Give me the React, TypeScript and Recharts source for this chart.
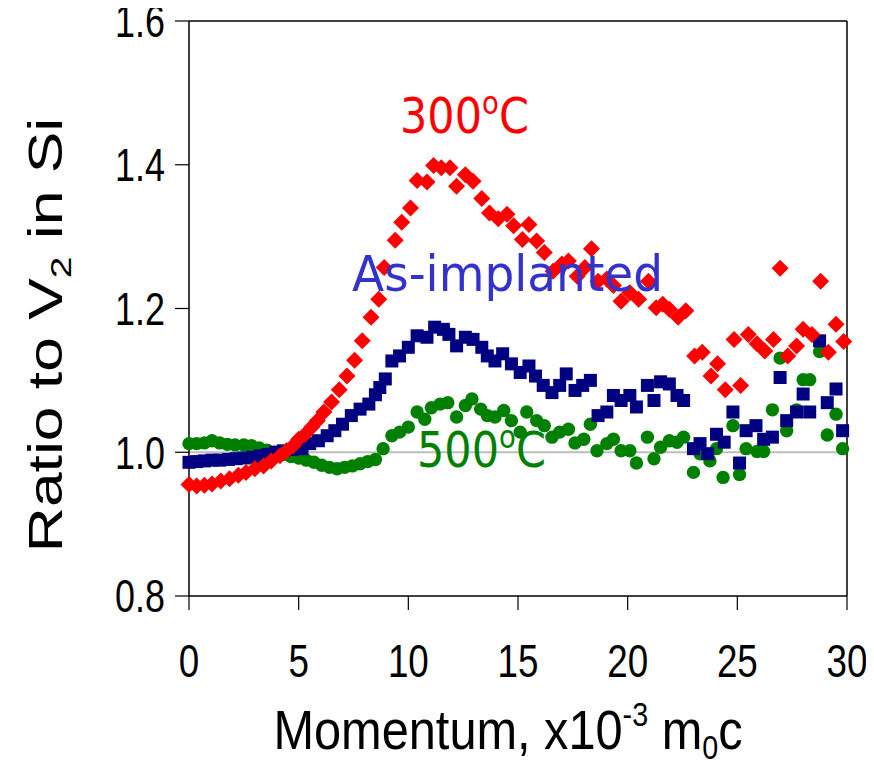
import React from "react";
import {
  ScatterChart,
  Scatter,
  XAxis,
  YAxis,
  ReferenceLine,
  Label,
} from "recharts";

// [momentum (x10^-3 m0c), ratio to V2]
const annealed300: [number, number][] = [
  [0.0, 0.955], [0.35, 0.953], [0.7, 0.954], [1.05, 0.956], [1.45, 0.96], [1.85, 0.963],
  [2.25, 0.968], [2.6, 0.972], [3.0, 0.977], [3.4, 0.981], [3.75, 0.988], [4.15, 0.995],
  [4.45, 1.002], [4.75, 1.009], [5.0, 1.018], [5.3, 1.025], [5.6, 1.035], [5.85, 1.044],
  [6.15, 1.056], [6.5, 1.07], [6.85, 1.087], [7.2, 1.106], [7.55, 1.128], [7.9, 1.155],
  [8.3, 1.188], [8.65, 1.213], [8.9, 1.257], [9.4, 1.295], [9.7, 1.32], [10.1, 1.34],
  [10.4, 1.378], [10.85, 1.376], [11.15, 1.399], [11.5, 1.396], [11.9, 1.396], [12.2, 1.37],
  [12.6, 1.386], [12.95, 1.377], [13.35, 1.353], [13.7, 1.333], [14.1, 1.325], [14.5, 1.331],
  [14.8, 1.315], [15.2, 1.296], [15.5, 1.317], [15.85, 1.294], [16.2, 1.278], [16.6, 1.252],
  [17.0, 1.262], [17.3, 1.266], [17.7, 1.245], [18.05, 1.257], [18.35, 1.283], [18.65, 1.238],
  [19.05, 1.241], [19.35, 1.232], [19.7, 1.21], [20.1, 1.222], [20.5, 1.213], [20.95, 1.238],
  [21.3, 1.201], [21.6, 1.206], [21.9, 1.199], [22.3, 1.188], [22.65, 1.197], [23.05, 1.134],
  [23.4, 1.139], [23.8, 1.106], [24.1, 1.123], [24.45, 1.087], [24.85, 1.157], [25.15, 1.093],
  [25.5, 1.164], [25.9, 1.151], [26.25, 1.141], [26.65, 1.157], [26.95, 1.256], [27.3, 1.134],
  [27.7, 1.148], [28.0, 1.171], [28.4, 1.164], [28.8, 1.238], [29.15, 1.139], [29.5, 1.178],
  [29.85, 1.154],
];

const asImplanted: [number, number][] = [
  [0.0, 0.986], [0.35, 0.987], [0.7, 0.988], [1.05, 0.989], [1.4, 0.989], [1.8, 0.99],
  [2.15, 0.991], [2.5, 0.992], [2.9, 0.993], [3.25, 0.995], [3.6, 0.997], [3.95, 1.0],
  [4.3, 1.002], [4.7, 1.004], [5.15, 1.005], [5.5, 1.012], [5.9, 1.016], [6.3, 1.023],
  [6.65, 1.03], [7.0, 1.039], [7.4, 1.051], [7.8, 1.06], [8.2, 1.067], [8.5, 1.08],
  [8.7, 1.09], [8.95, 1.102], [9.25, 1.127], [9.6, 1.134], [10.0, 1.146], [10.4, 1.162],
  [10.85, 1.16], [11.2, 1.174], [11.6, 1.171], [11.85, 1.164], [12.2, 1.148], [12.6, 1.16],
  [12.95, 1.157], [13.35, 1.146], [13.6, 1.134], [13.95, 1.127], [14.3, 1.137], [14.7, 1.123],
  [15.1, 1.111], [15.5, 1.12], [15.8, 1.106], [16.15, 1.093], [16.55, 1.083], [16.9, 1.093],
  [17.2, 1.109], [17.6, 1.086], [17.95, 1.093], [18.3, 1.1], [18.65, 1.051], [19.05, 1.056],
  [19.35, 1.079], [19.7, 1.072], [20.1, 1.079], [20.4, 1.063], [20.9, 1.093], [21.2, 1.072],
  [21.5, 1.098], [21.9, 1.095], [22.25, 1.079], [22.55, 1.072], [23.0, 1.005], [23.3, 1.012],
  [23.65, 0.998], [24.05, 1.025], [24.4, 1.014], [24.8, 1.056], [25.1, 0.985], [25.4, 1.03],
  [25.85, 1.037], [26.2, 1.018], [26.6, 1.021], [26.95, 1.104], [27.25, 1.044], [27.7, 1.056],
  [28.0, 1.081], [28.3, 1.056], [28.75, 1.155], [29.1, 1.069], [29.5, 1.088], [29.8, 1.03],
];

const annealed500: [number, number][] = [
  [0.0, 1.012], [0.35, 1.012], [0.7, 1.013], [1.05, 1.016], [1.4, 1.013], [1.75, 1.011],
  [2.1, 1.01], [2.5, 1.01], [2.85, 1.009], [3.2, 1.006], [3.55, 1.003], [3.9, 1.0],
  [4.3, 0.997], [4.65, 0.994], [5.0, 0.992], [5.35, 0.989], [5.7, 0.986], [6.05, 0.982],
  [6.4, 0.979], [6.75, 0.977], [7.1, 0.979], [7.45, 0.981], [7.8, 0.984], [8.15, 0.987],
  [8.5, 0.99], [8.85, 1.005], [9.25, 1.023], [9.6, 1.028], [10.0, 1.035], [10.4, 1.056],
  [10.75, 1.046], [11.05, 1.062], [11.45, 1.067], [11.8, 1.069], [12.2, 1.049], [12.6, 1.065],
  [12.9, 1.074], [13.3, 1.06], [13.6, 1.051], [13.95, 1.049], [14.35, 1.058], [14.7, 1.044],
  [15.1, 1.028], [15.4, 1.056], [15.85, 1.044], [16.2, 1.037], [16.55, 1.021], [16.9, 1.028],
  [17.3, 1.032], [17.6, 1.013], [18.0, 1.018], [18.3, 1.039], [18.6, 1.002], [19.05, 1.012],
  [19.35, 1.018], [19.7, 1.002], [20.1, 1.002], [20.4, 0.985], [20.9, 1.021], [21.2, 0.991],
  [21.5, 1.007], [21.9, 1.016], [22.25, 1.014], [22.55, 1.021], [23.0, 0.972], [23.3, 0.998],
  [23.75, 0.988], [24.05, 1.005], [24.35, 0.965], [24.8, 1.037], [25.1, 0.969], [25.4, 1.005],
  [25.9, 1.001], [26.2, 1.001], [26.6, 1.059], [26.95, 1.131], [27.25, 1.03], [27.7, 1.059],
  [28.0, 1.101], [28.3, 1.101], [28.75, 1.14], [29.1, 1.024], [29.5, 1.053], [29.8, 1.005],
];

const xTicks = [0, 5, 10, 15, 20, 25, 30];
const yTicks = [0.8, 1.0, 1.2, 1.4, 1.6];

const toPoints = (rows: [number, number][]) => rows.map(([x, y]) => ({ x, y }));

const AXIS_FONT = "'Liberation Sans', Arial, sans-serif";
const NOTE_FONT = "'DejaVu Sans', Verdana, sans-serif";

const Diamond = (p: any) => {
  const r = 8.5;
  return (
    <polygon
      points={`${p.cx},${p.cy - r} ${p.cx + r},${p.cy} ${p.cx},${p.cy + r} ${p.cx - r},${p.cy}`}
      fill="#ff0000"
    />
  );
};

const Square = (p: any) => (
  <rect x={p.cx - 6.5} y={p.cy - 6.5} width={13} height={13} fill="#000080" />
);

const Circle = (p: any) => <circle cx={p.cx} cy={p.cy} r={6.7} fill="#008000" />;

const XTick = (p: any) => (
  <text
    transform={`translate(${p.x},${p.y}) scale(0.8,1)`}
    textAnchor="middle"
    dy="0.71em"
    fontSize={46}
    fontFamily={AXIS_FONT}
    fill="#000"
  >
    {p.payload.value}
  </text>
);

const YTick = (p: any) => (
  <text
    transform={`translate(${p.x},${p.y}) scale(0.78,1)`}
    textAnchor="end"
    dy="0.355em"
    fontSize={46}
    fontFamily={AXIS_FONT}
    fill="#000"
  >
    {Number(p.payload.value).toFixed(1)}
  </text>
);

const XTitle = () => (
  <text
    transform="translate(500,741) scale(0.87,1)"
    textAnchor="middle"
    fontSize={56}
    fontFamily={AXIS_FONT}
    fill="#000"
  >
    Momentum, x10
    <tspan fontSize={33} dy={-23}>-3</tspan>
    <tspan dy={23}> m</tspan>
    <tspan fontSize={33} dy={10}>0</tspan>
    <tspan dy={-10}>c</tspan>
  </text>
);

const YTitle = () => (
  <text
    transform="translate(54,327) rotate(-90) scale(1.3,1)"
    textAnchor="middle"
    fontSize={48}
    fontFamily={AXIS_FONT}
    fill="#000"
  >
    Ratio to V
    <tspan fontSize={30} dy={9}>2</tspan>
    <tspan dy={-9}> in Si</tspan>
  </text>
);

const Note = ({ px, py, sx, color, main, deg }: { px: number; py: number; sx: number; color: string; main: string; deg?: boolean }) => (
  <text
    transform={`translate(${px},${py}) scale(${sx},1)`}
    fontSize={50}
    fontFamily={NOTE_FONT}
    fill={color}
  >
    {main}
    {deg && (
      <>
        <tspan fontSize={32} dy={-19}>o</tspan>
        <tspan dy={19}>C</tspan>
      </>
    )}
  </text>
);

export default function App() {
  return (
    <div style={{ position: "relative", width: 866, height: 757 }}>
      <ScatterChart
        width={866}
        height={757}
        margin={{ top: 13, right: 27, bottom: 49, left: 61 }}
      >
        <XAxis
          type="number"
          dataKey="x"
          domain={[0, 30]}
          ticks={xTicks}
          interval={0}
          height={120}
          tickSize={14}
          tickMargin={34}
          tick={<XTick />}
          axisLine={{ stroke: "#000", strokeWidth: 1.5 }}
          tickLine={{ stroke: "#000", strokeWidth: 1.2 }}
        >
          <Label content={<XTitle />} />
        </XAxis>
        <YAxis
          type="number"
          dataKey="y"
          domain={[0.8, 1.6]}
          ticks={yTicks}
          interval={0}
          width={120}
          tickSize={14}
          tickMargin={10}
          tick={<YTick />}
          axisLine={{ stroke: "#000", strokeWidth: 1.5 }}
          tickLine={{ stroke: "#000", strokeWidth: 1.2 }}
        >
          <Label content={<YTitle />} />
        </YAxis>
        <ReferenceLine y={1.6} stroke="#000" strokeWidth={1.5} />
        <ReferenceLine x={30} stroke="#000" strokeWidth={1.5} />
        <Scatter data={toPoints(annealed500)} shape={Circle} isAnimationActive={false} />
        <Scatter data={toPoints(asImplanted)} shape={Square} isAnimationActive={false} />
        <Scatter data={toPoints(annealed300)} shape={Diamond} isAnimationActive={false} />
        <ReferenceLine y={1.0} stroke="#bdbdbd" strokeWidth={2} />
      </ScatterChart>
      {/* series annotations drawn on top of the markers */}
      <svg
        width={866}
        height={757}
        style={{ position: "absolute", left: 0, top: 0, pointerEvents: "none" }}
      >
        <Note px={392} py={125} sx={0.86} color="#ff0000" main="300" deg />
        <Note px={344} py={283} sx={0.94} color="#3333cc" main="As-implanted" />
        <Note px={409} py={459} sx={0.86} color="#008000" main="500" deg />
      </svg>
    </div>
  );
}
